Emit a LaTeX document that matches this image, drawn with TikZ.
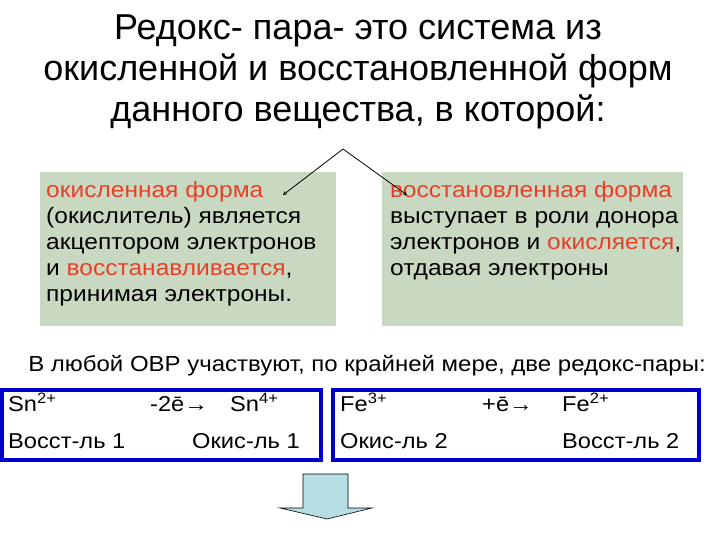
\documentclass[tikz,border=0pt]{standalone}
\usepackage{fontspec}
\setmainfont{Liberation Sans}
\newfontfamily\widefont[FakeStretch=1.1]{Liberation Sans}
\usetikzlibrary{positioning}
\definecolor{sage}{RGB}{201,217,193}
\definecolor{redtxt}{RGB}{232,64,40}
\definecolor{pairblue}{RGB}{0,0,204}
\definecolor{arrowblue}{RGB}{183,221,228}
\newcommand{\ox}[1]{\textcolor{redtxt}{#1}}
\begin{document}
\begin{tikzpicture}[x=1pt,y=-1pt,
    formbox/.style={fill=sage, inner sep=0pt, anchor=north west},
    formtext/.style={anchor=north west, align=left, inner sep=0pt,
        font=\widefont\fontsize{22.3}{26}\selectfont},
    pairbox/.style={draw=pairblue, line width=4.3pt},
    pairtext/.style={anchor=base west, inner sep=0pt, font=\widefont\fontsize{21.5}{26}\selectfont}]

    % Frame
    \useasboundingbox (0,0) rectangle (720,540);

    % Title
    \node[align=center, font=\fontsize{36}{41}\selectfont] (title) at (358,72)
        {Редокс- пара- это система из\\окисленной и восстановленной форм\\данного вещества, в которой:};

    % Two forms
    \node[formbox, minimum width=296pt, minimum height=154pt] (oxbox) at (40,172) {};
    \node[formbox, minimum width=301pt, minimum height=154pt] (redbox) at (382,172) {};
    \node[formtext] (oxtext) at (46,181)
        {\ox{окисленная форма}\\(окислитель) является\\акцептором электронов\\и \ox{восстанавливается},\\принимая электроны.};
    \node[formtext] (redtext) at (390,181)
        {\ox{восстановленная форма}\\выступает в роли донора\\электронов и \ox{окисляется},\\отдавая электроны};

    % Branch arrows
    \coordinate (apex) at (343,149);
    \coordinate (oxtip) at (283,195);
    \coordinate (redtip) at (407,195);
    \draw[-stealth, line width=0.8pt] (apex) -- (oxtip);
    \draw[-stealth, line width=0.8pt] (apex) -- (redtip);

    % Statement
    \node[font=\widefont\fontsize{21.8}{26}\selectfont] (note) at (367,366)
        {В любой ОВР участвуют, по крайней мере, две редокс-пары:};

    % Redox pairs
    \draw[pairbox] (1.5,390.3) rectangle (321,459.7);
    \draw[pairbox] (333,390.3) rectangle (699,459.7);

    \node[pairtext] (sntwo) at (8,411.5) {Sn\textsuperscript{2+}};
    \node[pairtext] (snloss) at (150,411.5) {-2ē→};
    \node[pairtext] (snfour) at (230,411.5) {Sn\textsuperscript{4+}};
    \node[pairtext] (snred) at (8,448.5) {Восст-ль 1};
    \node[pairtext] (snox) at (192,448.5) {Окис-ль 1};

    \node[pairtext] (fethree) at (340,411.5) {Fe\textsuperscript{3+}};
    \node[pairtext] (fegain) at (482,411.5) {+ē→};
    \node[pairtext] (fetwo) at (562,411.5) {Fe\textsuperscript{2+}};
    \node[pairtext] (feox) at (340,448.5) {Окис-ль 2};
    \node[pairtext] (fered) at (562,448.5) {Восст-ль 2};

    % Block arrow
    \filldraw[fill=arrowblue, draw=black, line width=0.6pt]
        (303,474) -- (348,474) -- (348,508) -- (372,508) -- (327,519)
        -- (280,508) -- (303,508) -- cycle;

\end{tikzpicture}
\end{document}
